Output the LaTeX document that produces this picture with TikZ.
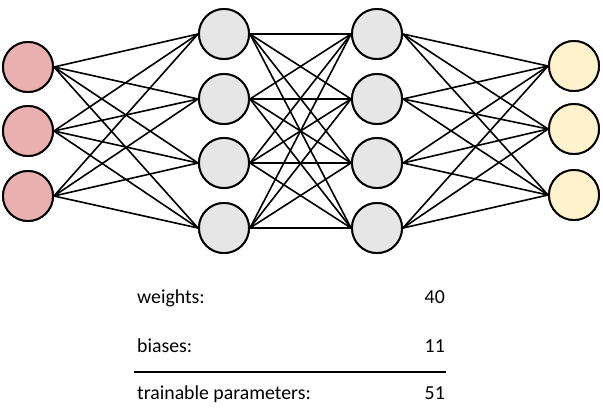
\documentclass[tikz,border=0pt]{standalone}
\usepackage{fontspec}
\setmainfont{Carlito}
\definecolor{inpink}{HTML}{EAB0B0}
\definecolor{hidgray}{HTML}{E6E6E6}
\definecolor{outyel}{HTML}{FFF2CC}
\begin{document}
\begin{tikzpicture}[x=1pt,y=-1pt,
  neuron/.style={circle,draw=black,line width=1.9pt,minimum size=50pt,inner sep=0pt},
  inn/.style={neuron,fill=inpink},
  hid/.style={neuron,fill=hidgray},
  outn/.style={neuron,fill=outyel},
  conn/.style={line width=1.6pt,black},
  lbl/.style={font=\fontsize{19.8}{23}\selectfont,inner sep=0pt,anchor=base west},
  num/.style={font=\fontsize{19.8}{23}\selectfont,inner sep=0pt,anchor=base east}]
\useasboundingbox (0,0) rectangle (603,408);
\foreach \i/\y in {1/67,2/131,3/196} \node[inn] (i\i) at (28,\y) {};
\foreach \i/\y in {1/34,2/99,3/163,4/228} \node[hid] (a\i) at (224,\y) {};
\foreach \i/\y in {1/34,2/99,3/163,4/228} \node[hid] (b\i) at (377,\y) {};
\foreach \i/\y in {1/66,2/129,3/195} \node[outn] (o\i) at (574,\y) {};
\foreach \i in {1,2,3} \foreach \j in {1,2,3,4} \draw[conn] (i\i.east) -- (a\j.west);
\foreach \i in {1,2,3,4} \foreach \j in {1,2,3,4} \draw[conn] (a\i.east) -- (b\j.west);
\foreach \i in {1,2,3,4} \foreach \j in {1,2,3} \draw[conn] (b\i.east) -- (o\j.west);
% redraw nodes on top
\foreach \i/\y in {1/67,2/131,3/196} \node[inn] at (28,\y) {};
\foreach \i/\y in {1/34,2/99,3/163,4/228} \node[hid] at (224,\y) {};
\foreach \i/\y in {1/34,2/99,3/163,4/228} \node[hid] at (377,\y) {};
\foreach \i/\y in {1/66,2/129,3/195} \node[outn] at (574,\y) {};
% table
\node[lbl] (w) at (137,303) {weights:};
\node[num] (wn) at (445,303) {40};
\node[lbl] (b) at (137,352) {biases:};
\node[num] (bn) at (445,352) {11};
\coordinate (l1) at (134,372);
\coordinate (l2) at (446,372);
\draw[line width=1.6pt] (l1) -- (l2);
\node[lbl] (t) at (137,399) {trainable parameters:};
\node[num] (tn) at (445,399) {51};
\end{tikzpicture}
\end{document}
